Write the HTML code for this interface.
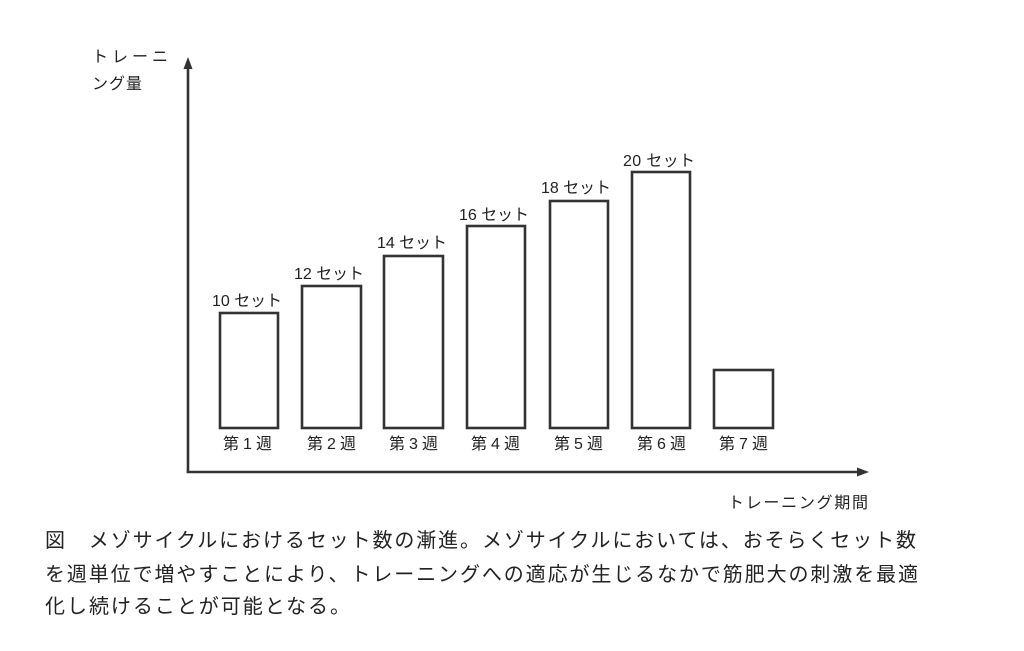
<!DOCTYPE html>
<html>
<head>
<meta charset="utf-8">
<style>
html,body{margin:0;padding:0;background:#fff;}
svg{display:block;}
text{font-family:"Liberation Sans","Noto Sans CJK JP",sans-serif;fill:#222;}
</style>
</head>
<body>
<svg width="1024" height="651" viewBox="0 0 1024 651" xmlns="http://www.w3.org/2000/svg">
  <rect width="1024" height="651" fill="#fff"/>
  <!-- axes -->
  <line x1="188" y1="473" x2="188" y2="66" stroke="#333" stroke-width="2.6"/>
  <polygon points="188,57 183.5,69 192.5,69" fill="#333"/>
  <line x1="186.7" y1="472" x2="860" y2="472" stroke="#333" stroke-width="2.6"/>
  <polygon points="869,472 857,467.5 857,476.5" fill="#333"/>

  <!-- axis labels -->
  <text x="92" y="62" font-size="16" textLength="76" lengthAdjust="spacing">トレーニ</text>
  <text x="92" y="89" font-size="16" textLength="50" lengthAdjust="spacing">ング量</text>
  <text x="728" y="508" font-size="16" textLength="140" lengthAdjust="spacing">トレーニング期間</text>

  <!-- bars -->
  <g fill="none" stroke="#333" stroke-width="2.6">
    <rect x="220" y="313" width="58" height="115"/>
    <rect x="302" y="286" width="59" height="142"/>
    <rect x="384" y="256" width="59" height="172"/>
    <rect x="467" y="226" width="58" height="202"/>
    <rect x="550" y="201" width="58" height="227"/>
    <rect x="632" y="172" width="58" height="256"/>
    <rect x="714" y="370" width="59" height="58"/>
  </g>

  <!-- value labels -->
  <g font-size="16">
    <text x="212" y="306" textLength="70" lengthAdjust="spacing">10 セット</text>
    <text x="294" y="279" textLength="70" lengthAdjust="spacing">12 セット</text>
    <text x="377" y="248" textLength="70" lengthAdjust="spacing">14 セット</text>
    <text x="459" y="220" textLength="70" lengthAdjust="spacing">16 セット</text>
    <text x="541" y="193" textLength="70" lengthAdjust="spacing">18 セット</text>
    <text x="623" y="166" textLength="72" lengthAdjust="spacing">20 セット</text>
  </g>

  <!-- week labels -->
  <g font-size="16">
    <text x="223" y="449" textLength="49" lengthAdjust="spacing">第1週</text>
    <text x="307" y="449" textLength="49" lengthAdjust="spacing">第2週</text>
    <text x="389" y="449" textLength="49" lengthAdjust="spacing">第3週</text>
    <text x="471" y="449" textLength="49" lengthAdjust="spacing">第4週</text>
    <text x="554" y="449" textLength="49" lengthAdjust="spacing">第5週</text>
    <text x="637" y="449" textLength="49" lengthAdjust="spacing">第6週</text>
    <text x="719" y="449" textLength="49" lengthAdjust="spacing">第7週</text>
  </g>

  <!-- caption -->
  <g font-size="20">
    <text x="45" y="547" textLength="871" lengthAdjust="spacing">図　メゾサイクルにおけるセット数の漸進。メゾサイクルにおいては、おそらくセット数</text>
    <text x="45" y="581" textLength="873" lengthAdjust="spacing">を週単位で増やすことにより、トレーニングへの適応が生じるなかで筋肥大の刺激を最適</text>
    <text x="45" y="613" textLength="305" lengthAdjust="spacing">化し続けることが可能となる。</text>
  </g>
</svg>
</body>
</html>
